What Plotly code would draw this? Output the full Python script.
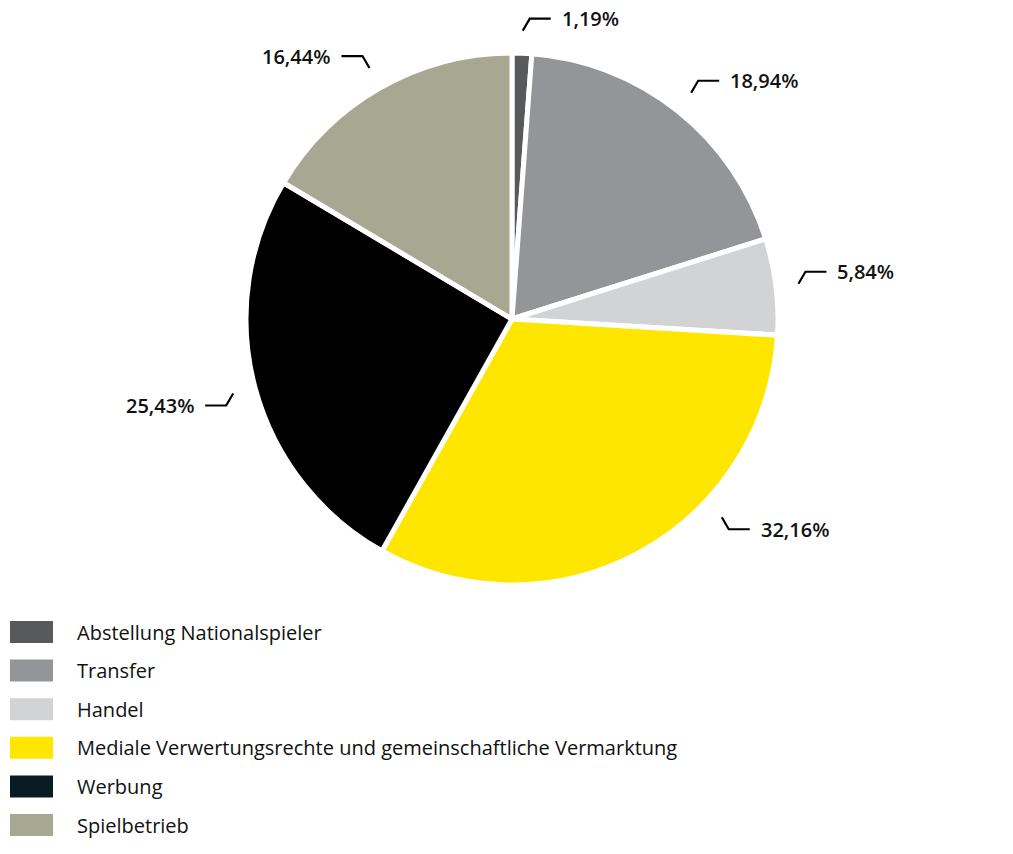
import math
import plotly.graph_objects as go

# ---- data ----
categories = [
    "Abstellung Nationalspieler",
    "Transfer",
    "Handel",
    "Mediale Verwertungsrechte und gemeinschaftliche Vermarktung",
    "Werbung",
    "Spielbetrieb",
]
shares = [1.19, 18.94, 5.84, 32.16, 25.43, 16.44]
share_labels = ["1,19%", "18,94%", "5,84%", "32,16%", "25,43%", "16,44%"]

# ---- style ----
slice_colors = ["#58595b", "#939598", "#d1d3d4", "#ffe600", "#000000", "#a8a792"]
legend_colors = ["#58595b", "#939598", "#d1d3d4", "#ffe600", "#0b1b24", "#a8a792"]
W, H = 1013, 854
OFF = 0                             # body margin removed via post_script
CX, CY, R = 512, 319, 266           # pie centre / radius in px (screen)
LABEL_SHIFT = {3: -18}              # angular nudge (deg) for crowded label
FONT = "Open Sans"

def px2paper(x, y):
    return (x - OFF) / W, 1 - (y - OFF) / H

fig = go.Figure()
x0, y1 = px2paper(CX - R, CY - R)
x1, y0 = px2paper(CX + R, CY + R)
fig.add_trace(go.Pie(
    labels=categories, values=shares, sort=False, direction="clockwise",
    rotation=0, textinfo="none", hoverinfo="label+percent",
    marker=dict(colors=slice_colors, line=dict(color="white", width=5)),
    domain=dict(x=[x0, x1], y=[y0, y1]), showlegend=False,
))

shapes, annotations = [], []
total = sum(shares)
cum = 0.0
for i, v in enumerate(shares):
    mid = (cum + v / 2) / total * 360 + LABEL_SHIFT.get(i, 0)
    cum += v
    th = math.radians(mid)
    s, c = math.sin(th), math.cos(th)
    r1 = R * 1.085
    sx, sy = CX + r1 * s, CY - r1 * c
    dx = 7 if s >= 0 else -7
    dy = -12 if c >= 0 else 12
    ex, ey = sx + dx, sy + dy
    hx = ex + (21 if s >= 0 else -21)
    pts = [px2paper(sx, sy), px2paper(ex, ey), px2paper(hx, ey)]
    path = "M {} {} L {} {} L {} {}".format(*[v_ for p in pts for v_ in p])
    shapes.append(dict(type="path", xref="paper", yref="paper", path=path,
                       line=dict(color="black", width=2.2)))
    tx, ty = px2paper(hx + (9 if s >= 0 else -9), ey)
    annotations.append(dict(
        x=tx, y=ty, xref="paper", yref="paper", text=share_labels[i],
        showarrow=False, xanchor="left" if s >= 0 else "right", yanchor="middle",
        font=dict(family=FONT, size=20, color="#111111", weight=600),
    ))

# custom legend
for i, name in enumerate(categories):
    yc = 632 + i * 38.6
    ax0, ay0 = px2paper(10, yc - 11)
    ax1, ay1 = px2paper(53, yc + 11)
    shapes.append(dict(type="rect", xref="paper", yref="paper",
                       x0=ax0, x1=ax1, y0=ay1, y1=ay0,
                       fillcolor=legend_colors[i], line=dict(width=0)))
    lx, ly = px2paper(75, yc)
    annotations.append(dict(
        x=lx, y=ly, xref="paper", yref="paper", text=name, showarrow=False,
        xanchor="left", yanchor="middle",
        font=dict(family=FONT, size=20, color="#111111"),
    ))

fig.update_layout(
    width=W, height=H, margin=dict(l=0, r=0, t=0, b=0),
    paper_bgcolor="white", plot_bgcolor="white",
    shapes=shapes, annotations=annotations, showlegend=False,
)
fig.write_html("out.html", config={"displayModeBar": False},
               post_script="document.body.style.margin='0';")
